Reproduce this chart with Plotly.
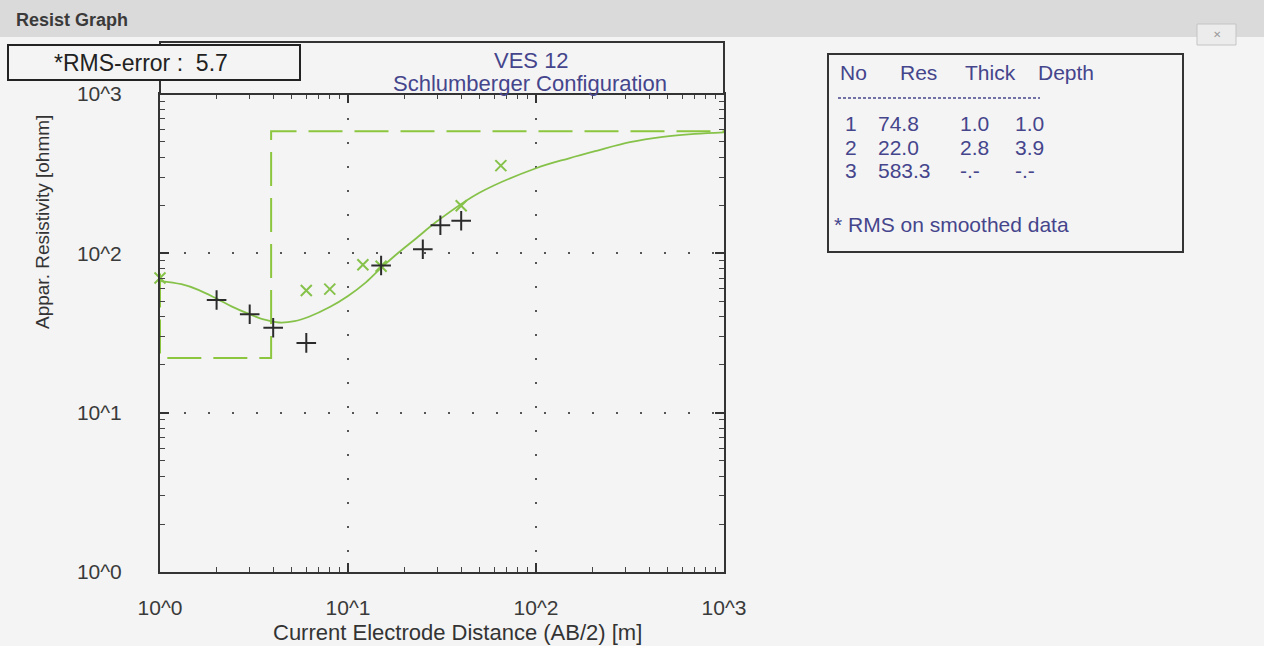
import plotly.graph_objects as go

# ---------------- data ----------------
# observed field data (black +)
obs_ab2 = [2.0, 3.0, 4.0, 6.0, 15, 25, 31, 40]
obs_rho = [51, 41.5, 34.1, 27.4, 83.8, 106, 150, 160]

# smoothed data (green x)
smooth_ab2 = [1.0, 6.0, 8.0, 12, 15, 40, 65]
smooth_rho = [70, 58.4, 59.6, 84.7, 83, 199, 355]

# calculated model curve (solid green)
curve_ab2 = [1.0, 1.3, 1.6, 2.0, 2.4, 3.0, 3.6, 4.3, 5.2, 6.2, 8.0, 10, 12.5, 15,
             18, 23, 30, 50, 100, 150, 210, 316, 473, 700, 1000]
curve_rho = [67, 64, 59, 52, 46.5, 41.5, 38.3, 36.8, 37.5, 40, 46, 54, 66, 81,
             98, 124, 160, 240, 342, 395, 440, 498, 538, 562, 575]

# layer model table
layer_no = ["1", "2", "3"]
layer_res = [74.8, 22.0, 583.3]
layer_thick = ["1.0", "2.8", "-.-"]
layer_depth = ["1.0", "3.9", "-.-"]
depth_vals = [1.0, 3.9]
x_max = 1000

tick_vals = [1, 10, 100, 1000]
tick_text = ["10^0", "10^1", "10^2", "10^3"]

rms_error = "5.7"
ves_title = "VES 12"
config_title = "Schlumberger Configuration"

# ---------------- style ----------------
FONT = "Liberation Sans, Arial, sans-serif"
GREEN = "#86c24a"
DASH_GREEN = "#8cc63f"
BLUE_TXT = "#45458c"
DARK = "#2b2b2b"
BG = "#f4f4f4"

L, R, T, B = 160, 540, 94, 74
W, H = 1264, 646
PW, PH = W - L - R, H - T - B


def px2x(px):
    return (px - L) / PW


def py2y(py):
    return (H - B - py) / PH


# model step line derived from table values
model_x = [depth_vals[0], depth_vals[0], depth_vals[1], depth_vals[1], x_max]
model_y = [layer_res[0], layer_res[1], layer_res[1], layer_res[2], layer_res[2]]

fig = go.Figure()
fig.add_trace(go.Scatter(x=model_x, y=model_y, mode="lines",
                         line=dict(color=DASH_GREEN, width=2, dash="34px,12px"),
                         showlegend=False, hoverinfo="skip"))
fig.add_trace(go.Scatter(x=curve_ab2, y=curve_rho, mode="lines",
                         line=dict(color=GREEN, width=1.8, shape="spline", smoothing=1.0),
                         showlegend=False))
fig.add_trace(go.Scatter(x=smooth_ab2, y=smooth_rho, mode="markers", cliponaxis=False,
                         marker=dict(symbol="x-thin", size=11, line=dict(color=GREEN, width=2)),
                         showlegend=False))
fig.add_trace(go.Scatter(x=obs_ab2, y=obs_rho, mode="markers", cliponaxis=False,
                         marker=dict(symbol="cross-thin", size=14, line=dict(color=DARK, width=2)),
                         showlegend=False))

axis_common = dict(
    type="log", range=[0, 3],
    showline=True, linecolor="#333", linewidth=2, mirror="ticks",
    ticks="inside", ticklen=9, tickwidth=1.5, tickcolor="#333",
    tickvals=tick_vals, ticktext=tick_text,
    tickfont=dict(family=FONT, size=21, color="#3a3a3a"),
    showgrid=True, gridcolor="#555", gridwidth=2, griddash="2px,22px",
    zeroline=False,
    minor=dict(ticks="inside", ticklen=5, tickwidth=1.2, tickcolor="#444",
               dtick="D1", showgrid=False),
)

fig.update_layout(
    width=W, height=H,
    margin=dict(l=L, r=R, t=T, b=B, autoexpand=False),
    paper_bgcolor=BG, plot_bgcolor=BG,
    font=dict(family=FONT),
    xaxis=dict(**axis_common, ticklabelstandoff=16),
    yaxis=dict(**axis_common, ticklabelstandoff=32),
    showlegend=False,
)

shapes = []
annotations = []

# window header bar
shapes.append(dict(type="rect", xref="paper", yref="paper",
                   x0=px2x(0), x1=px2x(W), y0=py2y(37), y1=py2y(0),
                   fillcolor="#dadada", line=dict(width=0), layer="below"))
annotations.append(dict(xref="paper", yref="paper", x=px2x(14), y=py2y(20),
                        xanchor="left", yanchor="middle", showarrow=False,
                        text="<b>Resist Graph</b>",
                        font=dict(family=FONT, size=18, color="#3a3a3a")))
# close button
shapes.append(dict(type="rect", xref="paper", yref="paper",
                   x0=px2x(1197), x1=px2x(1236), y0=py2y(45), y1=py2y(24),
                   fillcolor="#ececec", line=dict(color="#c4c4c4", width=1)))
annotations.append(dict(xref="paper", yref="paper", x=px2x(1216.5), y=py2y(34.5),
                        xanchor="center", yanchor="middle", showarrow=False,
                        text="✕", font=dict(family="DejaVu Sans", size=10, color="#9a9a9a")))

# title box above plot
shapes.append(dict(type="rect", xref="paper", yref="paper",
                   x0=0, x1=1, y0=1, y1=py2y(42),
                   fillcolor=BG, line=dict(color="#333", width=2), layer="above"))
annotations.append(dict(xref="paper", yref="paper", x=px2x(531), y=py2y(60),
                        xanchor="center", yanchor="middle", showarrow=False,
                        text=ves_title, font=dict(family=FONT, size=22, color=BLUE_TXT)))
annotations.append(dict(xref="paper", yref="paper", x=px2x(530), y=py2y(83),
                        xanchor="center", yanchor="middle", showarrow=False,
                        text=config_title, font=dict(family=FONT, size=22, color=BLUE_TXT)))

# RMS box
shapes.append(dict(type="rect", xref="paper", yref="paper",
                   x0=px2x(8), x1=px2x(300), y0=py2y(80), y1=py2y(45),
                   fillcolor=BG, line=dict(color="#222", width=2), layer="above"))
annotations.append(dict(xref="paper", yref="paper", x=px2x(52), y=py2y(63),
                        xanchor="left", yanchor="middle", showarrow=False,
                        text="*RMS-error :  " + rms_error,
                        font=dict(family=FONT, size=23, color="#222")))

# axis titles
annotations.append(dict(xref="paper", yref="paper", x=px2x(457), y=py2y(632),
                        xanchor="center", yanchor="middle", showarrow=False,
                        text="Current Electrode Distance (AB/2) [m]",
                        font=dict(family=FONT, size=22, color="#333")))
annotations.append(dict(xref="paper", yref="paper", x=px2x(42), y=py2y(222),
                        xanchor="center", yanchor="middle", showarrow=False, textangle=-90,
                        text="Appar. Resistivity [ohmm]",
                        font=dict(family=FONT, size=19, color="#333")))

# model table box
shapes.append(dict(type="rect", xref="paper", yref="paper",
                   x0=px2x(828), x1=px2x(1183), y0=py2y(252), y1=py2y(54),
                   fillcolor=BG, line=dict(color="#333", width=2)))
header = [("No", 838), ("Res", 898), ("Thick", 963), ("Depth", 1036)]
for txt, xp in header:
    annotations.append(dict(xref="paper", yref="paper", x=px2x(xp), y=py2y(72),
                            xanchor="left", yanchor="middle", showarrow=False,
                            text=txt, font=dict(family=FONT, size=21, color=BLUE_TXT)))
shapes.append(dict(type="line", xref="paper", yref="paper",
                   x0=px2x(838), x1=px2x(1040), y0=py2y(98), y1=py2y(98),
                   line=dict(color=BLUE_TXT, width=1.5, dash="3px,2px")))
row_y = [123, 147, 171]
for i in range(3):
    cells = [(layer_no[i], 843), (f"{layer_res[i]:.1f}", 876),
             (layer_thick[i], 958), (layer_depth[i], 1013)]
    for txt, xp in cells:
        annotations.append(dict(xref="paper", yref="paper", x=px2x(xp), y=py2y(row_y[i]),
                                xanchor="left", yanchor="middle", showarrow=False,
                                text=txt, font=dict(family=FONT, size=21, color=BLUE_TXT)))
annotations.append(dict(xref="paper", yref="paper", x=px2x(832), y=py2y(225),
                        xanchor="left", yanchor="middle", showarrow=False,
                        text="* RMS on smoothed data",
                        font=dict(family=FONT, size=21, color=BLUE_TXT)))

fig.update_layout(shapes=shapes, annotations=annotations)
fig.write_html("out.html")
